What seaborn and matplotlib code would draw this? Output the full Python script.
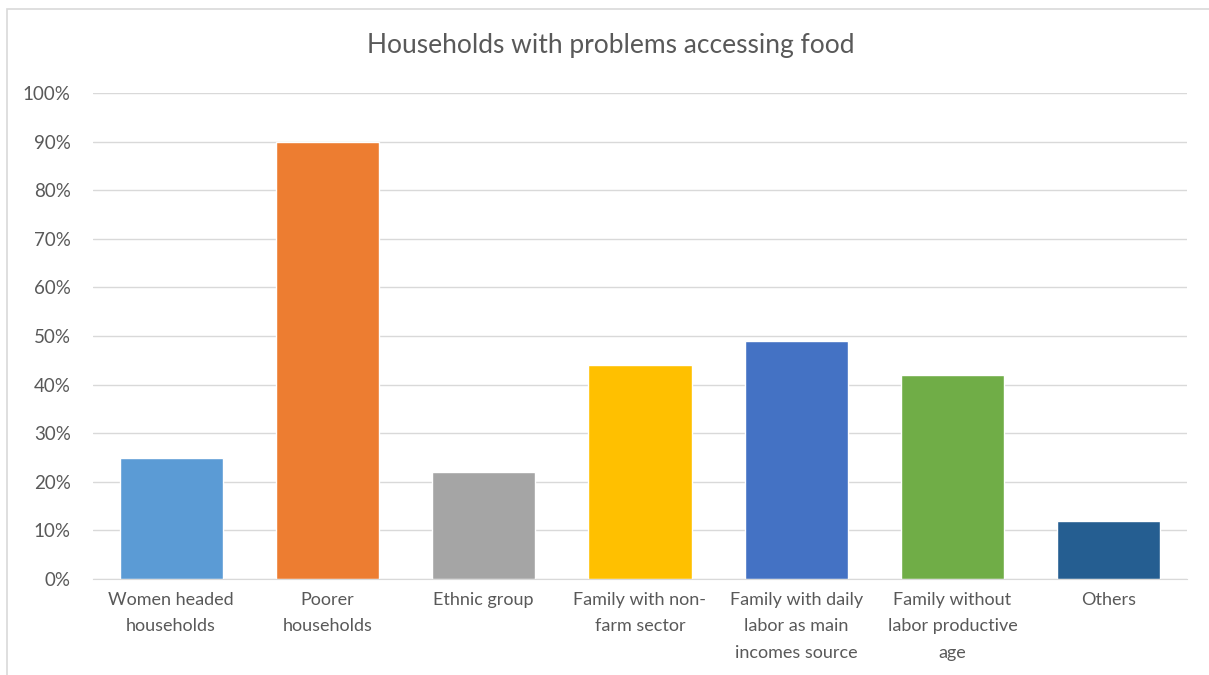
import numpy as np
import pandas as pd
import matplotlib
matplotlib.use("Agg")
import matplotlib.pyplot as plt
import seaborn as sns
from matplotlib.patches import Rectangle
from matplotlib.ticker import PercentFormatter

# données
categories = ["Women headed\nhouseholds", "Poorer\nhouseholds", "Ethnic group",
              "Family with non-\nfarm sector", "Family with daily\nlabor as main\nincomes source",
              "Family without\nlabor productive\nage", "Others"]
values = [25, 90, 22, 44, 49, 42, 12]
colors = ["#5B9BD5", "#ED7D31", "#A5A5A5", "#FFC000", "#4472C4", "#70AD47", "#255E91"]

df = pd.DataFrame({"cat": categories, "val": values})

sns.set_style("white")
plt.rcParams["font.family"] = ["Lato", "DejaVu Sans"]
txt = "#595959"

fig = plt.figure(figsize=(12.09, 6.75), dpi=100)
ax = fig.add_axes([0.0769, 0.1422, 0.9049, 0.72])

sns.barplot(data=df, x="cat", y="val", hue="cat", palette=colors, legend=False,
            width=0.66, saturation=1, ax=ax)

ax.set_ylim(0, 100)
ax.set_xlim(-0.5, 6.5)
ax.set_yticks(np.arange(0, 101, 10))
ax.yaxis.set_major_formatter(PercentFormatter(decimals=0))
ax.yaxis.grid(True, color="#D9D9D9", linewidth=1)
ax.set_axisbelow(True)
for s in ["top", "right", "left"]:
    ax.spines[s].set_visible(False)
ax.spines["bottom"].set_color("#D9D9D9")
ax.tick_params(axis="y", length=0, pad=16, labelsize=13.5, labelcolor=txt)
ax.tick_params(axis="x", length=0, pad=9, labelsize=13, labelcolor=txt)
for lab in ax.get_xticklabels():
    lab.set_linespacing(1.82)
ax.set_xlabel("")
ax.set_ylabel("")

fig.text(0.505, 0.932, "Households with problems accessing food", ha="center", va="center",
         fontsize=19, color=txt)

# cadre du graphique
fig.patches.append(Rectangle((7 / 1209, -0.1), 1.2, 1 - 9 / 675 + 0.1, transform=fig.transFigure,
                             fill=False, edgecolor="#D9D9D9", linewidth=1.2))

fig.savefig("out.png", dpi=100)
